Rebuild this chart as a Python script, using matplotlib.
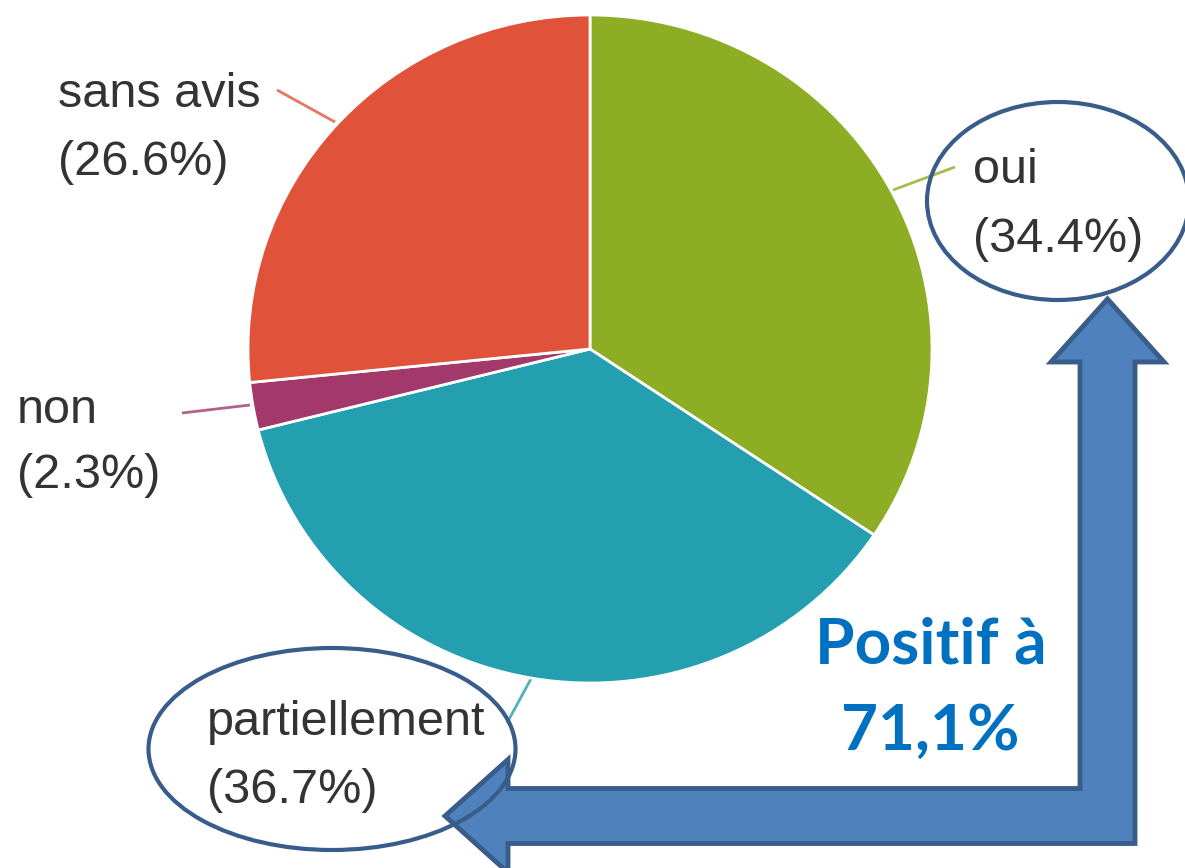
import matplotlib.pyplot as plt
from matplotlib.patches import Ellipse, Polygon

# survey answers (percent)
labels = ["oui", "partiellement", "non", "sans avis"]
shares = [34.4, 36.7, 2.3, 26.6]
colors = ["#8CAD24", "#239FAF", "#A3386A", "#E0523A"]

W, H = 1185, 868
fig = plt.figure(figsize=(W / 100, H / 100), dpi=100)

# full-figure axes in pixel units (y grows downward) for the annotations
ax = fig.add_axes([0, 0, 1, 1])
ax.set_xlim(0, W)
ax.set_ylim(H, 0)
ax.axis("off")

# pie sits in its own axes, box = left, top, right, bottom in pixels
left, top, right, bottom = 248, 15, 932, 683
pax = fig.add_axes([left / W, 1 - bottom / H, (right - left) / W, (bottom - top) / H])
pax.pie(shares, colors=colors, startangle=90, counterclock=False,
        wedgeprops=dict(edgecolor="white", linewidth=2))
pax.set_aspect("auto")
pax.set_xlim(-1, 1)
pax.set_ylim(-1, 1)
pax.axis("off")
pax.patch.set_alpha(0)

##
#    Labels with leader lines
##
txt = dict(fontsize=35, color="#333333", family="Liberation Sans", va="baseline")
lab_pos = {                       # x, first baseline, second baseline
    "oui": (973, 183, 252),
    "partiellement": (207, 735, 803),
    "non": (17, 423, 488),
    "sans avis": (58, 107, 175),
}
leaders = {
    "oui": ((893, 955), (190, 167)),
    "partiellement": ((532, 507), (677, 723)),
    "non": ((250, 182), (405, 413)),
    "sans avis": ((335, 277), (122, 90)),
}
for name, val, col in zip(labels, shares, colors):
    x, b1, b2 = lab_pos[name]
    ax.text(x, b1, name, **txt)
    ax.text(x, b2, f"({val}%)", **txt)
    lx, ly = leaders[name]
    ax.plot(lx, ly, color=col, lw=2, alpha=0.8, solid_capstyle="butt")

##
#    Bent arrow from "partiellement" to "oui"
##
cx, cy = 1107.5, 816          # shaft centre lines
hw, head_hw, head_len = 27.5, 56.5, 63
tip_y, tip_x = 299, 445
pts = [
    (cx, tip_y),
    (cx + head_hw, tip_y + head_len),
    (cx + hw, tip_y + head_len),
    (cx + hw, cy + hw),
    (tip_x + head_len, cy + hw),
    (tip_x + head_len, cy + head_hw),
    (tip_x, cy),
    (tip_x + head_len, cy - head_hw),
    (tip_x + head_len, cy - hw),
    (cx - hw, cy - hw),
    (cx - hw, tip_y + head_len),
    (cx - head_hw, tip_y + head_len),
]
ax.add_patch(Polygon(pts, closed=True, facecolor="#4F81BD", edgecolor="#385D8A",
                     linewidth=3.5, joinstyle="miter", zorder=3))

# ellipses around the two positive answers
ax.add_patch(Ellipse((1058, 201), 262, 198, fill=False, edgecolor="#385D8A",
                     linewidth=3, zorder=4))
ax.add_patch(Ellipse((332, 749), 367, 202, fill=False, edgecolor="#385D8A",
                     linewidth=3, zorder=4))

positive = shares[labels.index("oui")] + shares[labels.index("partiellement")]
big = dict(fontsize=46, color="#0070C0", family="Lato", fontweight="bold",
           ha="center", va="baseline")
ax.text(931, 663, "Positif à", **big)
ax.text(930, 750, f"{positive:.1f}%".replace(".", ","), **big)

fig.savefig("out.png", dpi=100)
